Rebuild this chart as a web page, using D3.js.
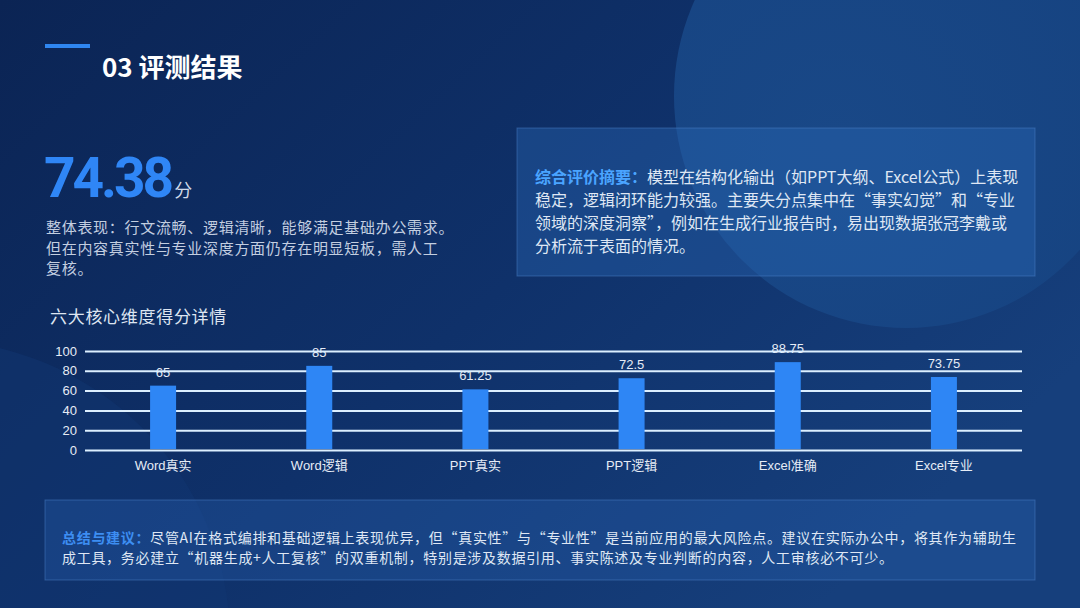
<!DOCTYPE html>
<html>
<head>
<meta charset="utf-8">
<script src="https://cdn.jsdelivr.net/npm/d3@7"></script>
<style>
  html, body { margin: 0; padding: 0; background: #0d2a5e; }
  svg { display: block; }
  .cn { font-family: "Noto Sans CJK SC", "Noto Sans", sans-serif; }
  .axis text { font-family: "Liberation Sans", Arial, "Noto Sans CJK SC", sans-serif; }
</style>
</head>
<body>
<script>
const categories = ['Word真实', 'Word逻辑', 'PPT真实', 'PPT逻辑', 'Excel准确', 'Excel专业']
const scores = [65, 85, 61.25, 72.5, 88.75, 73.75]
const yTicks = [0, 20, 40, 60, 80, 100]
const totalScore = '74.38'

const descLines = [
    '整体表现：行文流畅、逻辑清晰，能够满足基础办公需求。',
    '但在内容真实性与专业深度方面仍存在明显短板，需人工',
    '复核。'
]
const summaryLabel = '综合评价摘要：'
const summaryLines = [
    '模型在结构化输出（如PPT大纲、Excel公式）上表现',
    '稳定，逻辑闭环能力较强。主要失分点集中在“事实幻觉”和“专业',
    '领域的深度洞察”，例如在生成行业报告时，易出现数据张冠李戴或',
    '分析流于表面的情况。'
]
const adviceLabel = '总结与建议：'
const adviceLines = [
    '尽管AI在格式编排和基础逻辑上表现优异，但“真实性”与“专业性”是当前应用的最大风险点。建议在实际办公中，将其作为辅助生',
    '成工具，务必建立“机器生成+人工复核”的双重机制，特别是涉及数据引用、事实陈述及专业判断的内容，人工审核必不可少。'
]

const W = 1080, H = 608

const svg = d3.select('body').append('svg')
    .attr('width', W)
    .attr('height', H)

// background
const defs = svg.append('defs')
const bg = defs.append('linearGradient').attr('id', 'bg')
    .attr('x1', 0).attr('y1', 0).attr('x2', 1).attr('y2', 0.6)
bg.append('stop').attr('offset', '0%').attr('stop-color', '#0b2454')
bg.append('stop').attr('offset', '55%').attr('stop-color', '#0f316a')
bg.append('stop').attr('offset', '100%').attr('stop-color', '#163f7c')

const circ = defs.append('radialGradient').attr('id', 'circ')
    .attr('cx', '35%').attr('cy', '60%').attr('r', '70%')
circ.append('stop').attr('offset', '0%').attr('stop-color', '#194887')
circ.append('stop').attr('offset', '100%').attr('stop-color', '#164381')

svg.append('rect').attr('width', W).attr('height', H).attr('fill', 'url(#bg)')
svg.append('circle').attr('cx', 906).attr('cy', 96).attr('r', 232)
    .attr('fill', 'url(#circ)')
svg.append('circle').attr('cx', -70).attr('cy', 640).attr('r', 300)
    .attr('fill', '#123874').attr('opacity', 0.45)

// title
svg.append('rect').attr('x', 45).attr('y', 44).attr('width', 45).attr('height', 4)
    .attr('fill', '#2f86f0')
svg.append('text').attr('class', 'cn')
    .attr('x', 102).attr('y', 77)
    .attr('fill', '#ffffff')
    .attr('font-size', 26)
    .attr('font-weight', 'bold')
    .text('03 评测结果')

// big score
const score = svg.append('text')
    .attr('x', 44).attr('y', 197)
score.append('tspan')
    .attr('font-family', 'Roboto, "Noto Sans", sans-serif')
    .attr('font-weight', 'bold')
    .attr('font-size', 55)
    .attr('letter-spacing', -3)
    .attr('fill', '#2f86f6')
    .text(totalScore)
score.append('tspan').attr('class', 'cn')
    .attr('dx', 3)
    .attr('font-size', 18)
    .attr('fill', '#cfd9ea')
    .text('分')

svg.append('g').selectAll('text').data(descLines).enter().append('text')
    .attr('class', 'cn')
    .attr('x', 46)
    .attr('y', (d, i) => 233 + i * 20.5)
    .attr('font-size', 15)
    .attr('letter-spacing', 0.7)
    .attr('fill', '#c3cee0')
    .text(d => d)

// summary box
svg.append('rect')
    .attr('x', 517).attr('y', 128).attr('width', 518).attr('height', 148)
    .attr('fill', '#2a68b8').attr('fill-opacity', 0.38)
    .attr('stroke', '#4f85cc').attr('stroke-opacity', 0.45)
const sumText = svg.append('g').attr('class', 'cn')
    .attr('font-size', 16)
    .attr('fill', '#dfe7f4')
summaryLines.forEach((line, i) => {
    const t = sumText.append('text')
        .attr('x', 535)
        .attr('y', 183 + i * 23)
    if (i === 0) {
        t.append('tspan').attr('fill', '#4aa4ff').attr('font-weight', 'bold').text(summaryLabel)
    }
    t.append('tspan').text(line)
})

// chart
svg.append('text').attr('class', 'cn')
    .attr('x', 50).attr('y', 323)
    .attr('font-size', 17)
    .attr('letter-spacing', 0.7)
    .attr('fill', '#dde5f1')
    .text('六大核心维度得分详情')

const margin = { left: 85, right: 58, top: 351, bottom: 158 }
const x = d3.scaleBand().domain(categories).range([margin.left, W - margin.right])
const y = d3.scaleLinear().domain([0, 100]).range([H - margin.bottom, margin.top])
const barW = 26

const chart = svg.append('g')

// value labels (grid passes over them)
chart.append('g').selectAll('text').data(scores).enter().append('text')
    .attr('x', (d, i) => x(categories[i]) + x.bandwidth() / 2)
    .attr('y', d => y(d) - 9)
    .attr('text-anchor', 'middle')
    .attr('font-family', '"Liberation Sans", Arial, sans-serif')
    .attr('font-size', 13)
    .attr('fill', '#e6ecf6')
    .text(d => d)

const yAxis = chart.append('g')
    .attr('class', 'axis')
    .attr('transform', `translate(${margin.left},0)`)
    .call(d3.axisLeft(y).tickValues(yTicks)
        .tickSize(-(W - margin.left - margin.right)).tickPadding(8))
yAxis.select('.domain').remove()
yAxis.selectAll('line').attr('stroke', '#dcefff').attr('stroke-width', 2)
yAxis.selectAll('text').attr('fill', '#e6ecf6').attr('font-size', 13)

chart.append('g').selectAll('rect').data(scores).enter().append('rect')
    .attr('x', (d, i) => x(categories[i]) + x.bandwidth() / 2 - barW / 2)
    .attr('y', d => y(d))
    .attr('width', barW)
    .attr('height', d => y(0) - y(d) - 1)
    .attr('fill', '#2e86f5')

const xAxis = chart.append('g')
    .attr('class', 'axis')
    .attr('transform', `translate(0,${y(0)})`)
    .call(d3.axisBottom(x).tickSize(0).tickPadding(11))
xAxis.select('.domain').remove()
xAxis.selectAll('text').attr('fill', '#e6ecf6').attr('font-size', 13)

// advice box
svg.append('rect')
    .attr('x', 45).attr('y', 500).attr('width', 990).attr('height', 80)
    .attr('fill', '#2a68b8').attr('fill-opacity', 0.3)
    .attr('stroke', '#4f85cc').attr('stroke-opacity', 0.45)
const advText = svg.append('g').attr('class', 'cn')
    .attr('font-size', 14)
    .attr('letter-spacing', 0.7)
    .attr('fill', '#dfe7f4')
adviceLines.forEach((line, i) => {
    const t = advText.append('text')
        .attr('x', 62)
        .attr('y', 543 + i * 20)
    if (i === 0) {
        t.append('tspan').attr('fill', '#3d8ef2').attr('font-weight', 'bold').text(adviceLabel)
    }
    t.append('tspan').text(line)
})
</script>
</body>
</html>
